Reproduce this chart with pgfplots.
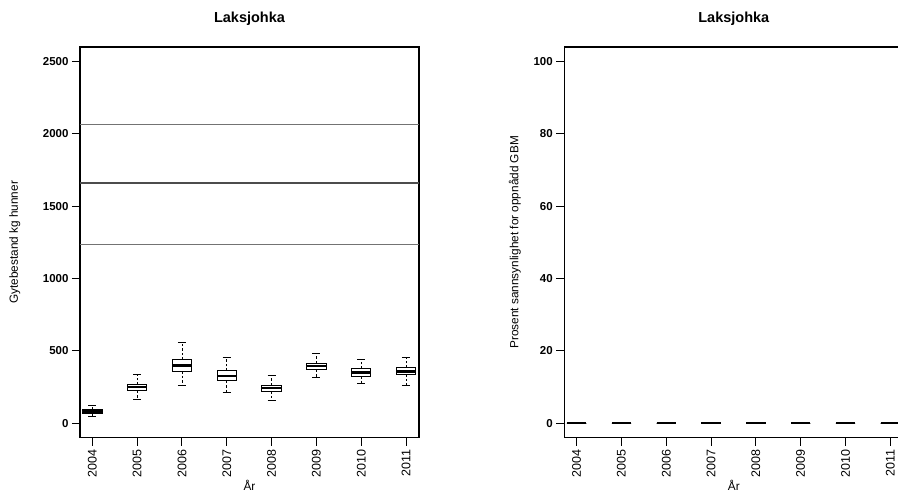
\documentclass[border=0pt]{standalone}
\usepackage{pgfplots}
\pgfplotsset{compat=1.18}
\usepgfplotslibrary{statistics}
\usepackage{fontspec}
\setmainfont{Liberation Sans}

\pgfplotsset{
  boxplot/draw/lower whisker/.code={%
    \draw[line width=0.7pt, dash pattern=on 2.5pt off 2pt] (boxplot box cs:\pgfplotsboxplotvalue{lower quartile},0.5) -- (boxplot box cs:\pgfplotsboxplotvalue{lower whisker},0.5);
    \draw[solid, line width=0.9pt] (boxplot whisker cs:\pgfplotsboxplotvalue{lower whisker},0) -- (boxplot whisker cs:\pgfplotsboxplotvalue{lower whisker},1);
  },
  boxplot/draw/upper whisker/.code={%
    \draw[line width=0.7pt, dash pattern=on 2.5pt off 2pt] (boxplot box cs:\pgfplotsboxplotvalue{upper quartile},0.5) -- (boxplot box cs:\pgfplotsboxplotvalue{upper whisker},0.5);
    \draw[solid, line width=0.9pt] (boxplot whisker cs:\pgfplotsboxplotvalue{upper whisker},0) -- (boxplot whisker cs:\pgfplotsboxplotvalue{upper whisker},1);
  },
  myaxis/.style={
    scale only axis, width=339pt, height=390.7pt,
    xmin=0.725, xmax=8.29,
    xtick={1,2,3,4,5,6,7,8},
    xticklabels={2004,2005,2006,2007,2008,2009,2010,2011},
    axis line style={line width=1.5pt},
    tick align=outside, major tick length=8pt,
    tick style={line width=1pt, black},
    xtick pos=lower, ytick pos=left,
    scaled y ticks=false,
    /pgf/number format/1000 sep={},
    /pgf/number format/assume math mode=true,
    xticklabel style={rotate=90, anchor=east, font=\fontsize{12.5}{14}\selectfont},
    yticklabel style={font=\fontsize{11.5}{13}\selectfont\bfseries},
    title style={at={(axis description cs:0.5,1.0563)}, anchor=center, font=\fontsize{14.5}{16}\selectfont\bfseries},
    xlabel style={at={(axis description cs:0.5,-0.121)}, anchor=center, font=\fontsize{11.8}{13}\selectfont},
    ylabel style={anchor=center, font=\fontsize{11.8}{13}\selectfont},
  },
  mybox/.style={black, fill=white, line width=0.9pt,
    boxplot/draw direction=y,
    boxplot/box extend=0.43, boxplot/whisker extend=0.18,
    boxplot/every median/.style={line width=2.3pt}},
}

\begin{document}
\begin{tikzpicture}
\begin{axis}[myaxis, at={(80pt,55.3pt)}, anchor=south west,
  ymin=-100, ymax=2600, ytick={0,500,1000,1500,2000,2500},
  title={Laksjohka}, xlabel={År}, ylabel={Gytebestand kg hunner},
  ylabel style={at={(axis description cs:-0.192,0.5)}}]
\addplot[color=black!55, line width=0.9pt] coordinates {(0.725,2068) (8.29,2068)};
\addplot[color=black!70, line width=1.1pt] coordinates {(0.725,1660) (8.29,1660)};
\addplot[color=black!55, line width=0.9pt] coordinates {(0.725,1238) (8.29,1238)};
\addplot[mybox, boxplot prepared={draw position=1, lower whisker=48, lower quartile=65, median=81, upper quartile=95, upper whisker=122}] coordinates {};
\addplot[mybox, boxplot prepared={draw position=2, lower whisker=164, lower quartile=226, median=249, upper quartile=267, upper whisker=337}] coordinates {};
\addplot[mybox, boxplot prepared={draw position=3, lower whisker=259, lower quartile=360, median=399, upper quartile=440, upper whisker=560}] coordinates {};
\addplot[mybox, boxplot prepared={draw position=4, lower whisker=210, lower quartile=293, median=325, upper quartile=362, upper whisker=457}] coordinates {};
\addplot[mybox, boxplot prepared={draw position=5, lower whisker=157, lower quartile=221, median=242, upper quartile=263, upper whisker=332}] coordinates {};
\addplot[mybox, boxplot prepared={draw position=6, lower whisker=316, lower quartile=369, median=394, upper quartile=415, upper whisker=482}] coordinates {};
\addplot[mybox, boxplot prepared={draw position=7, lower whisker=272, lower quartile=325, median=351, upper quartile=376, upper whisker=443}] coordinates {};
\addplot[mybox, boxplot prepared={draw position=8, lower whisker=263, lower quartile=337, median=358, upper quartile=383, upper whisker=454}] coordinates {};
\end{axis}

\begin{axis}[myaxis, at={(564.3pt,55.3pt)}, anchor=south west,
  ymin=-4, ymax=104, ytick={0,20,40,60,80,100},
  title={Laksjohka}, xlabel={År}, ylabel={Prosent sannsynlighet for oppnådd GBM},
  ylabel style={at={(axis description cs:-0.1456,0.5)}}]
\addplot[mybox, boxplot prepared={draw position=1, lower whisker=0, lower quartile=0, median=0, upper quartile=0, upper whisker=0}] coordinates {};
\addplot[mybox, boxplot prepared={draw position=2, lower whisker=0, lower quartile=0, median=0, upper quartile=0, upper whisker=0}] coordinates {};
\addplot[mybox, boxplot prepared={draw position=3, lower whisker=0, lower quartile=0, median=0, upper quartile=0, upper whisker=0}] coordinates {};
\addplot[mybox, boxplot prepared={draw position=4, lower whisker=0, lower quartile=0, median=0, upper quartile=0, upper whisker=0}] coordinates {};
\addplot[mybox, boxplot prepared={draw position=5, lower whisker=0, lower quartile=0, median=0, upper quartile=0, upper whisker=0}] coordinates {};
\addplot[mybox, boxplot prepared={draw position=6, lower whisker=0, lower quartile=0, median=0, upper quartile=0, upper whisker=0}] coordinates {};
\addplot[mybox, boxplot prepared={draw position=7, lower whisker=0, lower quartile=0, median=0, upper quartile=0, upper whisker=0}] coordinates {};
\addplot[mybox, boxplot prepared={draw position=8, lower whisker=0, lower quartile=0, median=0, upper quartile=0, upper whisker=0}] coordinates {};
\end{axis}
\pgfresetboundingbox
\useasboundingbox (0,0) rectangle (898pt,493pt);
\end{tikzpicture}
\end{document}
